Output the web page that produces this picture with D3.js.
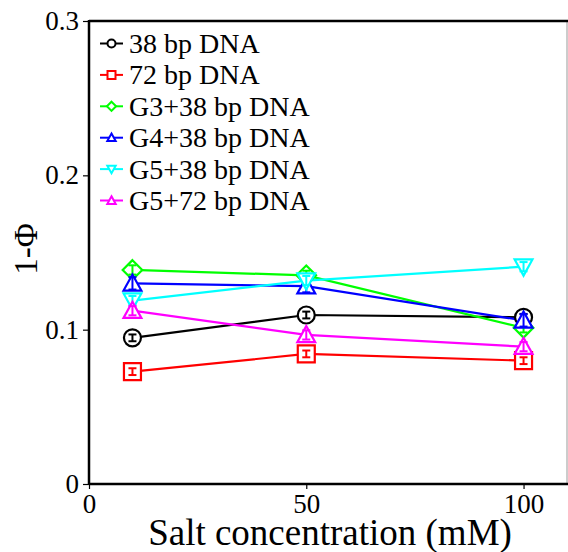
<!DOCTYPE html>
<html><head><meta charset="utf-8">
<script src="https://cdn.jsdelivr.net/npm/d3@7"></script>
<style>body{margin:0;background:#fff;}svg{display:block;}</style>
</head><body>
<svg id="c" width="568" height="552"></svg>
<script>
const salt = [10, 50, 100];
const seriesNames = ["38 bp DNA","72 bp DNA","G3+38 bp DNA","G4+38 bp DNA","G5+38 bp DNA","G5+72 bp DNA"];
const seriesColors = ["#000000","#ff0000","#00ff00","#0000ff","#00ffff","#ff00ff"];
const seriesSymbols = ["circle","square","diamond","triUp","triDown","triUp"];
const dna38 = [0.0947, 0.1095, 0.108];
const dna72 = [0.0728, 0.0843, 0.0799];
const g3dna38 = [0.1387, 0.1352, 0.1012];
const g4dna38 = [0.130, 0.1282, 0.106];
const g5dna38 = [0.1188, 0.1318, 0.1408];
const g5dna72 = [0.1123, 0.0966, 0.0890];
const err38 = [0.0022, 0.0022, 0.0022];
const err72 = [0.0022, 0.0022, 0.0022];
const errG3 = [0.003, 0.003, 0.003];
const errG4 = [0.004, 0.004, 0.004];
const errG5a = [0.003, 0.003, 0.003];
const errG5b = [0.003, 0.003, 0.003];
const xTicks = [0, 50, 100];
const yTicks = [0, 0.1, 0.2, 0.3];
const yTickLabels = ["0","0.1","0.2","0.3"];
const xTitle = "Salt concentration (mM)";
const yTitle = "1-\u03A6";

const values = [dna38, dna72, g3dna38, g4dna38, g5dna38, g5dna72];
const errors = [err38, err72, errG3, errG4, errG5a, errG5b];

const svg = d3.select("#c");
const L = 89, R = 567, T = 21, B = 484;
const x = d3.scaleLinear().domain([0, 110]).range([L, R]);
const y = d3.scaleLinear().domain([0, 0.3]).range([B, T]);
const font = "Liberation Serif";

function symbolPath(type, s) {
  if (type === "circle") return d3.symbol(d3.symbolCircle, Math.PI * s * s)();
  if (type === "square") return `M${-s},${-s}H${s}V${s}H${-s}Z`;
  if (type === "diamond") return `M0,${-s*1.15}L${s*1.15},0L0,${s*1.15}L${-s*1.15},0Z`;
  if (type === "triUp") return `M0,${-s*1.05}L${s*1.05},${s*0.85}L${-s*1.05},${s*0.85}Z`;
  if (type === "triDown") return `M0,${s*1.05}L${s*1.05},${-s*0.85}L${-s*1.05},${-s*0.85}Z`;
}

// axes
const yAxis = d3.axisLeft(y).tickValues(yTicks).tickFormat((d,i)=>yTickLabels[i]).tickSize(6).tickPadding(4);
const xAxis = d3.axisBottom(x).tickValues(xTicks).tickFormat(d3.format("d")).tickSize(5).tickPadding(5);
const gy = svg.append("g").attr("transform", `translate(${L},0)`).call(yAxis);
const gx = svg.append("g").attr("transform", `translate(0,${B})`).call(xAxis);
[gx, gy].forEach(g => {
  g.select(".domain").remove();
  g.attr("font-family", null).attr("font-size", null);
  g.selectAll("text").style("font-family", font).style("font-size", "27px").attr("fill", "#000");
  g.selectAll("line").attr("stroke", "#000").attr("stroke-width", 1.2);
});
gx.selectAll("text").attr("dy", "0.72em");

// frame
svg.append("line").attr("x1", R).attr("x2", R).attr("y1", T).attr("y2", B).attr("stroke", "#999").attr("stroke-width", 1);
svg.append("line").attr("x1", L).attr("x2", R+1).attr("y1", T).attr("y2", T).attr("stroke", "#000").attr("stroke-width", 2.5);
svg.append("line").attr("x1", L).attr("x2", R+1).attr("y1", B).attr("y2", B).attr("stroke", "#000").attr("stroke-width", 2.5);
svg.append("line").attr("x1", L).attr("x2", L).attr("y1", T-1).attr("y2", B+1).attr("stroke", "#000").attr("stroke-width", 2.5);

// series lines
const line = d3.line().x((d,i)=>x(salt[i])).y(d=>y(d));
values.forEach((vals, k) => {
  svg.append("path").attr("d", line(vals)).attr("fill", "none")
    .attr("stroke", seriesColors[k]).attr("stroke-width", 2.2);
});
// markers + error bars
values.forEach((vals, k) => {
  const g = svg.append("g");
  vals.forEach((v, i) => {
    const cx = x(salt[i]), cy = y(v);
    g.append("path").attr("d", symbolPath(seriesSymbols[k], 8.5))
      .attr("transform", `translate(${cx},${cy})`)
      .attr("fill", "#fff").attr("stroke", seriesColors[k]).attr("stroke-width", 2.2);
    const e = errors[k][i];
    const y1 = y(v + e), y2 = y(v - e);
    g.append("line").attr("x1", cx).attr("x2", cx).attr("y1", y1).attr("y2", y2).attr("stroke", seriesColors[k]).attr("stroke-width", 2);
    [y1, y2].forEach(yy => g.append("line").attr("x1", cx-4).attr("x2", cx+4).attr("y1", yy).attr("y2", yy).attr("stroke", seriesColors[k]).attr("stroke-width", 2));
  });
});

// legend
const lg = svg.append("g");
seriesNames.forEach((name, k) => {
  const cy = 43.5 + k * 31.4;
  lg.append("line").attr("x1", 100).attr("x2", 123).attr("y1", cy).attr("y2", cy).attr("stroke", seriesColors[k]).attr("stroke-width", 2);
  lg.append("path").attr("d", symbolPath(seriesSymbols[k], 4)).attr("transform", `translate(111.5,${cy})`)
    .attr("fill", "#fff").attr("stroke", seriesColors[k]).attr("stroke-width", 2);
  lg.append("text").attr("x", 129).attr("y", cy + 9.5).text(name)
    .style("font-family", font).style("font-size", "28px").attr("fill", "#000");
});

// titles
svg.append("text").attr("x", 330).attr("y", 545).attr("text-anchor", "middle")
  .style("font-family", font).style("font-size", "37px").attr("fill", "#000").text(xTitle);
svg.append("text").attr("transform", "translate(37,249) rotate(-90)").attr("text-anchor", "middle")
  .style("font-family", font).style("font-size", "33px").attr("fill", "#000").text(yTitle);
</script>
</body></html>
